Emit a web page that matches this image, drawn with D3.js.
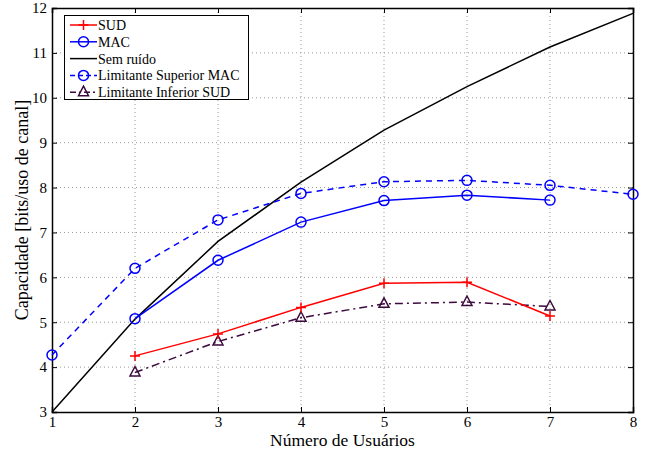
<!DOCTYPE html>
<html lang="pt">
<head>
<meta charset="UTF-8">
<style>
    body { margin: 0; background: #fff; }
    text { font-family: "Liberation Serif", "Times New Roman", serif; fill: #000; }
    .grid line { stroke: #999; stroke-dasharray: 1,3; stroke-width: 1; }
</style>
<script src="https://d3js.org/d3.v7.min.js"></script>
</head>
<body>
<svg width="651" height="456"></svg>
<script>
    // data
    var users = [1, 2, 3, 4, 5, 6, 7, 8];
    var semRuido = [3.0, 5.07, 6.8, 8.12, 9.28, 10.25, 11.13, 11.88];
    var macX = [2, 3, 4, 5, 6, 7];
    var mac = [5.08, 6.38, 7.23, 7.71, 7.83, 7.72];
    var supMac = [4.27, 6.2, 7.28, 7.87, 8.13, 8.16, 8.05, 7.85];
    var sudX = [2, 3, 4, 5, 6, 7];
    var sud = [4.25, 4.74, 5.33, 5.87, 5.89, 5.14];
    var infSud = [3.88, 4.57, 5.1, 5.41, 5.45, 5.35];
    var yTicks = [3, 4, 5, 6, 7, 8, 9, 10, 11, 12];

    var svg = d3.select("svg");
    // plot box (note: "top" is reserved on window, so use other names)
    var pL = 52, pR = 633, pT = 8, pB = 412;

    var x = d3.scaleLinear().domain([1, 8]).range([pL, pR]);
    var y = d3.scaleLinear().domain([3, 12]).range([pB, pT]);

    // grid
    var grid = svg.append("g").attr("class", "grid");
    grid.selectAll(".gx").data(users.slice(1, -1)).enter().append("line")
        .attr("x1", d => x(d)).attr("x2", d => x(d))
        .attr("y1", pT).attr("y2", pB);
    grid.selectAll(".gy").data(yTicks.slice(1, -1)).enter().append("line")
        .attr("x1", pL).attr("x2", pR)
        .attr("y1", d => y(d)).attr("y2", d => y(d));

    // axes, ticks pointing inward
    var fmt = d3.format("d");
    svg.append("g").attr("transform", "translate(0," + pB + ")")
        .call(d3.axisBottom(x).tickValues(users).tickSize(-5).tickPadding(4).tickFormat(fmt));
    svg.append("g").attr("transform", "translate(0," + pT + ")")
        .call(d3.axisTop(x).tickValues(users).tickSize(-5).tickFormat(""));
    svg.append("g").attr("transform", "translate(" + pL + ",0)")
        .call(d3.axisLeft(y).tickValues(yTicks).tickSize(-5).tickPadding(5).tickFormat(fmt));
    svg.append("g").attr("transform", "translate(" + pR + ",0)")
        .call(d3.axisRight(y).tickValues(yTicks).tickSize(-5).tickFormat(""));
    svg.selectAll(".domain").attr("stroke", "#000").attr("stroke-width", 1.5);
    svg.selectAll(".tick line").attr("stroke", "#000");
    svg.selectAll(".tick text").style("font-family", "Liberation Serif").style("font-size", "15px");

    var line = d3.line().x(d => x(d[0])).y(d => y(d[1]));

    function drawMarker(cx, cy, type, color) {
        if (type == "circle") {
            svg.append("circle").attr("cx", cx).attr("cy", cy).attr("r", 5)
                .attr("fill", "none").attr("stroke", color).attr("stroke-width", 1.5);
        } else if (type == "plus") {
            svg.append("path").attr("d", "M" + (cx - 5) + "," + cy + "h10M" + cx + "," + (cy - 5) + "v10")
                .attr("stroke", color).attr("stroke-width", 1.5);
        } else if (type == "tri") {
            svg.append("path").attr("d", "M" + cx + "," + (cy - 6) + "L" + (cx + 5) + "," + (cy + 3.5) + "L" + (cx - 5) + "," + (cy + 3.5) + "Z")
                .attr("fill", "none").attr("stroke", color).attr("stroke-width", 1.5);
        }
    }

    function series(xs, ys, color, dash, marker) {
        var pts = xs.map((v, i) => [v, ys[i]]);
        svg.append("path").datum(pts)
            .attr("d", line).attr("fill", "none")
            .attr("stroke", color).attr("stroke-width", 1.5)
            .attr("stroke-dasharray", dash);
        if (marker) {
            pts.forEach(p => drawMarker(x(p[0]), y(p[1]), marker, color));
        }
    }

    series(users, semRuido, "#000", null, null);
    series(users, supMac, "#0000ff", "6,5", "circle");
    series(macX, mac, "#0000ff", null, "circle");
    series(sudX, infSud, "#3d0a3d", "8,4,2,4", "tri");
    series(sudX, sud, "#ff0000", null, "plus");

    // legend
    var legendItems = [
        { name: "SUD", color: "#ff0000", dash: null, marker: "plus" },
        { name: "MAC", color: "#0000ff", dash: null, marker: "circle" },
        { name: "Sem ruído", color: "#000", dash: null, marker: null },
        { name: "Limitante Superior MAC", color: "#0000ff", dash: "5,3", marker: "circle" },
        { name: "Limitante Inferior SUD", color: "#3d0a3d", dash: "6,3,2,3", marker: "tri" }
    ];
    svg.append("rect").attr("x", 64.5).attr("y", 15.5).attr("width", 184).attr("height", 84)
        .attr("fill", "#fff").attr("stroke", "#000").attr("stroke-width", 1);
    legendItems.forEach(function(d, i) {
        var ly = 25 + i * 16.8;
        svg.append("line").attr("x1", 70).attr("x2", 97).attr("y1", ly).attr("y2", ly)
            .attr("stroke", d.color).attr("stroke-width", 1.5).attr("stroke-dasharray", d.dash);
        if (d.marker) drawMarker(83.5, ly, d.marker, d.color);
        svg.append("text").attr("x", 98).attr("y", ly).attr("dy", "0.35em")
            .style("font-size", "14px").text(d.name);
    });

    // axis titles
    svg.append("text").attr("x", (pL + pR) / 2).attr("y", 446)
        .attr("text-anchor", "middle").style("font-size", "17.5px").text("Número de Usuários");
    svg.append("text").attr("transform", "translate(28," + ((pT + pB) / 2) + ") rotate(-90)")
        .attr("text-anchor", "middle").style("font-size", "18px").text("Capacidade [bits/uso de canal]");
</script>
</body>
</html>
